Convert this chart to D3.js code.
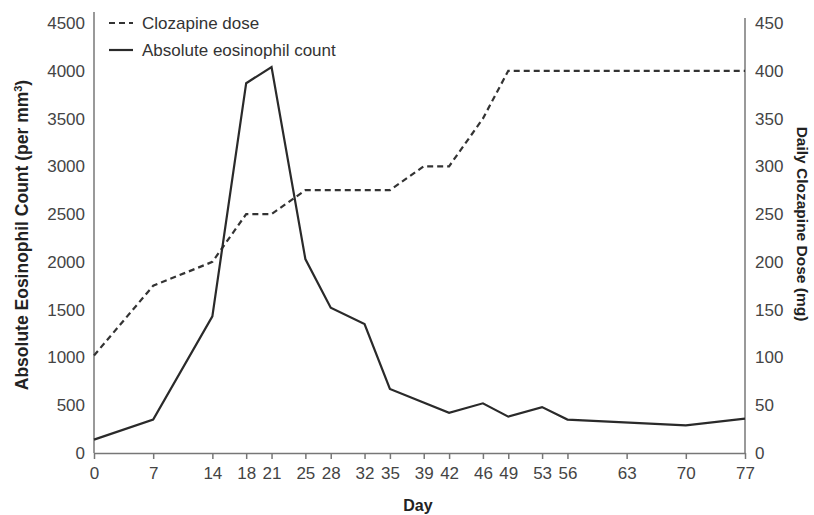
<!DOCTYPE html>
<meta charset="utf-8">
<style>
body { margin: 0; background: #fff; }
svg text { font-family: "Liberation Sans", Arial, Helvetica, sans-serif; }
.tick text { fill: #444; font-size: 17px; }
.title { fill: #222; font-weight: bold; }
.legend text { fill: #333; font-size: 17px; }
</style>
<body>
<script src="https://d3js.org/d3.v7.min.js"></script>
<script>
// tick labels on the x axis (day numbers)
var dayTicks = [0, 7, 14, 18, 21, 25, 28, 32, 35, 39, 42, 46, 49, 53, 56, 63, 70, 77];

// absolute eosinophil count (per mm3)
var eosDays = [0, 7, 14, 18, 21, 25, 28, 32, 35, 42, 46, 49, 53, 56, 70, 77];
var eosCount = [140, 350, 1430, 3870, 4040, 2030, 1520, 1350, 670, 420, 520, 380, 480, 350, 290, 360];

// daily clozapine dose (mg)
var doseDays = [0, 7, 14, 18, 21, 25, 28, 32, 35, 39, 42, 46, 49, 53, 56, 63, 70, 77];
var doseMg = [102, 175, 200, 250, 250, 275, 275, 275, 275, 300, 300, 350, 400, 400, 400, 400, 400, 400];

var leftTicks = [0, 500, 1000, 1500, 2000, 2500, 3000, 3500, 4000, 4500];
var rightTicks = [0, 50, 100, 150, 200, 250, 300, 350, 400, 450];

var W = 814, H = 515;
var x0 = 94, x1 = 745, yBot = 453, yTop = 23;

var svg = d3.select("body").append("svg")
    .attr("width", W)
    .attr("height", H);

var x = d3.scaleLinear().domain([0, 77]).range([x0, x1]);
var yL = d3.scaleLinear().domain([0, 4500]).range([yBot, yTop]);
var yR = d3.scaleLinear().domain([0, 450]).range([yBot, yTop]);

// left axis
var gl = svg.append("g")
    .attr("transform", "translate(" + x0 + ",0)")
    .call(d3.axisLeft(yL).tickValues(leftTicks).tickFormat(d3.format("d")).tickSize(0).tickPadding(9));
gl.select(".domain").remove();
svg.append("line").attr("x1", x0).attr("x2", x0).attr("y1", 12).attr("y2", yBot)
    .attr("stroke", "#777").attr("stroke-width", 1.5);

// right axis
var gr = svg.append("g")
    .attr("transform", "translate(" + x1 + ",0)")
    .call(d3.axisRight(yR).tickValues(rightTicks).tickSize(0).tickPadding(10));
gr.select(".domain").remove();
svg.append("line").attr("x1", x1).attr("x2", x1).attr("y1", 18).attr("y2", yBot)
    .attr("stroke", "#777").attr("stroke-width", 1.5);

// bottom axis
var gb = svg.append("g")
    .attr("transform", "translate(0," + yBot + ")")
    .call(d3.axisBottom(x).tickValues(dayTicks).tickSizeInner(6).tickSizeOuter(0).tickPadding(8));
gb.select(".domain").attr("stroke", "#777").attr("stroke-width", 1.5);
gb.selectAll(".tick line").attr("stroke", "#777").attr("stroke-width", 1.5);

// lines
var eosLine = d3.line()
    .x(function(d, i) { return x(eosDays[i]); })
    .y(function(d) { return yL(d); });

var doseLine = d3.line()
    .x(function(d, i) { return x(doseDays[i]); })
    .y(function(d) { return yR(d); });

svg.append("path")
    .datum(doseMg)
    .attr("d", doseLine)
    .attr("fill", "none")
    .attr("stroke", "#333")
    .attr("stroke-width", 2.2)
    .attr("stroke-dasharray", "6,4");

svg.append("path")
    .datum(eosCount)
    .attr("d", eosLine)
    .attr("fill", "none")
    .attr("stroke", "#2a2a2a")
    .attr("stroke-width", 2.2);

// legend
var lg = svg.append("g").attr("class", "legend");
lg.append("line").attr("x1", 109).attr("x2", 133).attr("y1", 23).attr("y2", 23)
    .attr("stroke", "#333").attr("stroke-width", 2.2).attr("stroke-dasharray", "6,4");
lg.append("text").attr("x", 142).attr("y", 29).text("Clozapine dose");
lg.append("line").attr("x1", 109).attr("x2", 133).attr("y1", 50).attr("y2", 50)
    .attr("stroke", "#2a2a2a").attr("stroke-width", 2.2);
lg.append("text").attr("x", 142).attr("y", 56).text("Absolute eosinophil count");

// axis titles
svg.append("text")
    .attr("class", "title")
    .attr("font-size", "17.5px")
    .attr("text-anchor", "middle")
    .attr("transform", "translate(28,235) rotate(-90)")
    .html("Absolute Eosinophil Count (per mm<tspan baseline-shift='super' font-size='11px'>3</tspan>)");

svg.append("text")
    .attr("class", "title")
    .attr("font-size", "15.5px")
    .attr("text-anchor", "middle")
    .attr("transform", "translate(797,224) rotate(90)")
    .text("Daily Clozapine Dose (mg)");

svg.append("text")
    .attr("class", "title")
    .attr("font-size", "16px")
    .attr("text-anchor", "middle")
    .attr("x", 418)
    .attr("y", 511)
    .text("Day");
</script>
</body>
